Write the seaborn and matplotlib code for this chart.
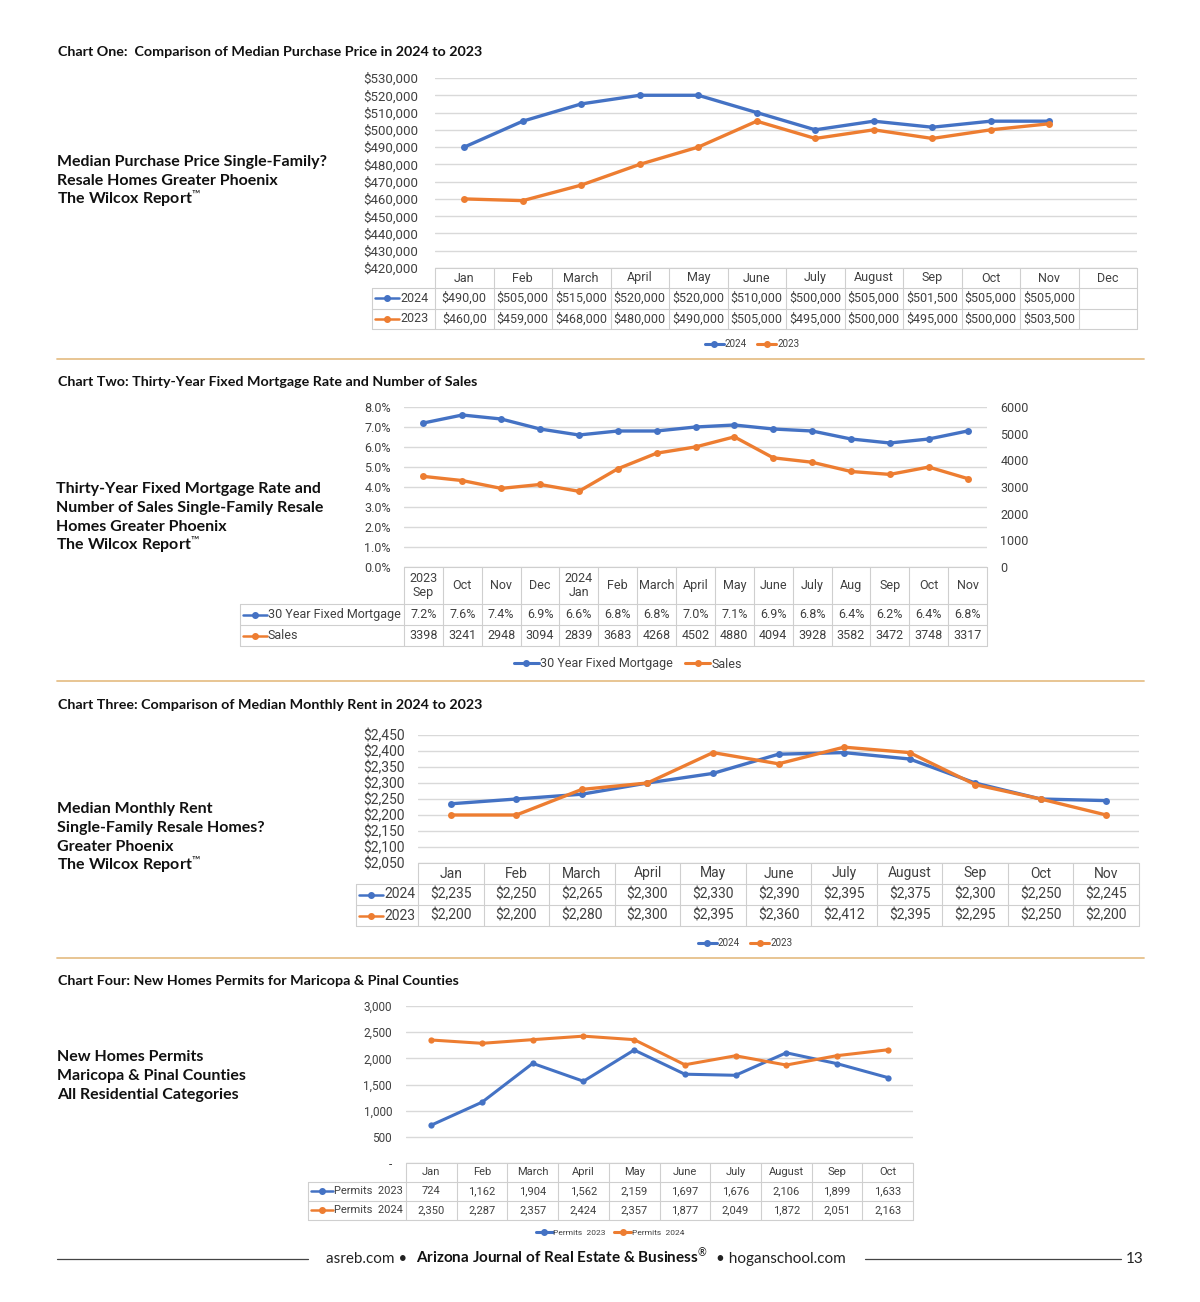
import numpy as np
import pandas as pd
import matplotlib
matplotlib.use('Agg')
import matplotlib.pyplot as plt
import seaborn as sns
from matplotlib.lines import Line2D
from matplotlib import font_manager

# chart one: median purchase price
months1 = ['Jan', 'Feb', 'March', 'April', 'May', 'June', 'July', 'August', 'Sep', 'Oct', 'Nov', 'Dec']
price_2024 = [490000, 505000, 515000, 520000, 520000, 510000, 500000, 505000, 501500, 505000, 505000]
price_2023 = [460000, 459000, 468000, 480000, 490000, 505000, 495000, 500000, 495000, 500000, 503500]

# chart two: mortgage rate and sales
months2 = ['2023\nSep', 'Oct', 'Nov', 'Dec', '2024\nJan', 'Feb', 'March', 'April', 'May', 'June',
           'July', 'Aug', 'Sep', 'Oct', 'Nov']
mortgage_rate = [7.2, 7.6, 7.4, 6.9, 6.6, 6.8, 6.8, 7.0, 7.1, 6.9, 6.8, 6.4, 6.2, 6.4, 6.8]
sales = [3398, 3241, 2948, 3094, 2839, 3683, 4268, 4502, 4880, 4094, 3928, 3582, 3472, 3748, 3317]

# chart three: median monthly rent
months3 = ['Jan', 'Feb', 'March', 'April', 'May', 'June', 'July', 'August', 'Sep', 'Oct', 'Nov']
rent_2024 = [2235, 2250, 2265, 2300, 2330, 2390, 2395, 2375, 2300, 2250, 2245]
rent_2023 = [2200, 2200, 2280, 2300, 2395, 2360, 2412, 2395, 2295, 2250, 2200]

# chart four: new homes permits
months4 = ['Jan', 'Feb', 'March', 'April', 'May', 'June', 'July', 'August', 'Sep', 'Oct']
permits_2023 = [724, 1162, 1904, 1562, 2159, 1697, 1676, 2106, 1899, 1633]
permits_2024 = [2350, 2287, 2357, 2424, 2357, 1877, 2049, 1872, 2051, 2163]

BLUE = '#4472C4'
ORANGE = '#ED7D31'
GRID = '#d9d9d9'
CELL = '#cfcfcf'
XTXT = '#404040'
RULE = '#e6c08a'

sns.set_style('white')
names = {f.name for f in font_manager.fontManager.ttflist}
XL = 'Liberation Sans Narrow' if 'Liberation Sans Narrow' in names else 'Roboto'
PAGE = 'Lato' if 'Lato' in names else 'DejaVu Sans'
plt.rcParams['font.family'] = [XL, 'DejaVu Sans']
plt.rcParams['mathtext.fontset'] = 'custom'
plt.rcParams['mathtext.rm'] = PAGE
plt.rcParams['mathtext.it'] = PAGE
plt.rcParams['mathtext.bf'] = PAGE + ':bold'

W, H = 1200, 1302
fig = plt.figure(figsize=(W / 100, H / 100), dpi=100)


def fx(x):
    return x / W


def fy(y):
    return 1 - y / H


def ptext(x, y, s, **kw):
    fig.text(fx(x), fy(y), s, **kw)


def seg(x0, y0, x1, y1, color=CELL, lw=0.8):
    fig.add_artist(Line2D([fx(x0), fx(x1)], [fy(y0), fy(y1)], transform=fig.transFigure,
                          color=color, lw=lw))


def chart_axes(l, t, r, b, n, ylim, yticks, fmt, fs, pad):
    ax = fig.add_axes([fx(l), fy(b), (r - l) / W, (b - t) / H])
    ax.set_xlim(-0.5, n - 0.5)
    ax.set_ylim(*ylim)
    ax.set_yticks(yticks)
    ax.set_yticklabels([fmt(v) for v in yticks])
    ax.set_xticks([])
    ax.tick_params(axis='y', length=0, pad=pad, labelsize=fs, labelcolor=XTXT)
    ax.yaxis.grid(True, color=GRID, lw=1)
    ax.set_axisbelow(True)
    for s in ax.spines.values():
        s.set_visible(False)
    return ax


def draw_lines(ax, series, palette, lw=2.4, ms=5):
    frame = pd.concat([pd.DataFrame({'pos': np.arange(len(v)), 'value': v, 'series': k})
                       for k, v in series.items()])
    sns.lineplot(data=frame, x='pos', y='value', hue='series', hue_order=list(series),
                 palette=palette, marker='o', markersize=ms, markeredgewidth=0,
                 linewidth=lw, legend=False, sort=False, ax=ax)
    ax.set_xlabel('')
    ax.set_ylabel('')


def draw_table(l, r, top, head_h, row_h, head_left, col_labels, rows, fs, key_w=24):
    n = len(col_labels)
    colw = (r - l) / n
    bottom = top + head_h + row_h * len(rows)
    seg(l, top, r, top)
    for k in range(len(rows) + 1):
        y = top + head_h + row_h * k
        seg(head_left, y, r, y)
    for i in range(n + 1):
        seg(l + i * colw, top, l + i * colw, bottom)
    seg(head_left, top + head_h, head_left, bottom)
    for i, lab in enumerate(col_labels):
        ptext(l + (i + 0.5) * colw, top + head_h / 2, lab, ha='center', va='center',
              fontsize=fs, color=XTXT, linespacing=1.15)
    for k, (name, color, cells) in enumerate(rows):
        yc = top + head_h + row_h * (k + 0.5)
        x0 = head_left + 3
        fig.add_artist(Line2D([fx(x0), fx(x0 + key_w / 2), fx(x0 + key_w)], [fy(yc)] * 3,
                              transform=fig.transFigure, color=color, lw=1.8,
                              marker='o', ms=4, markevery=[1]))
        ptext(x0 + key_w + 1, yc, name, ha='left', va='center', fontsize=fs, color=XTXT)
        for i, c in enumerate(cells):
            ptext(l + (i + 0.5) * colw, yc, c, ha='center', va='center', fontsize=fs, color=XTXT)


def legend(cx, cy, items, fs):
    handles = [Line2D([], [], color=c, lw=2.2, marker='o', ms=4) for _, c in items]
    fig.legend(handles, [t for t, _ in items], loc='center', bbox_to_anchor=(fx(cx), fy(cy)),
               ncol=len(items), frameon=False, fontsize=fs, handlelength=2.0,
               handletextpad=0.1, columnspacing=1.0, labelcolor=XTXT)


WILCOX = 'The Wilcox Report$^{\u2122}$'


def page_label(x, y, lines, step=19):
    for k, s in enumerate(lines):
        ptext(x, y + k * step, s, ha='left', va='baseline', fontsize=11.5, fontweight='bold',
              family=[PAGE, 'DejaVu Sans'], color='#111111')


def title(y, s):
    ptext(58, y, s, ha='left', va='center', fontsize=10.3, fontweight='bold',
          family=[PAGE, 'DejaVu Sans'], color='#111111')


# ---- chart one
title(52, 'Chart One:  Comparison of Median Purchase Price in 2024 to 2023')
page_label(57, 166, ['Median Purchase Price Single-Family?', 'Resale Homes Greater Phoenix', WILCOX])
ax1 = chart_axes(435, 78, 1137, 268, len(months1), (420000, 530000),
                 np.arange(420000, 530001, 10000), lambda v: f'${v:,.0f}', 9.5, 12)
draw_lines(ax1, {'2024': price_2024, '2023': price_2023}, {'2024': BLUE, '2023': ORANGE})
cells_2024 = [f'${v:,}' for v in price_2024]
cells_2023 = [f'${v:,}' for v in price_2023]
cells_2024[0] = cells_2024[0][:-1]  # clipped in the original cell
cells_2023[0] = cells_2023[0][:-1]
draw_table(435, 1137, 268, 20, 20.5, 372, months1,
           [('2024', BLUE, cells_2024), ('2023', ORANGE, cells_2023)], 9)
legend(752, 344, [('2024', BLUE), ('2023', ORANGE)], 7)
seg(57, 359, 1144, 359, color=RULE, lw=1.3)

# ---- chart two
title(382, 'Chart Two: Thirty-Year Fixed Mortgage Rate and Number of Sales')
page_label(56, 493, ['Thirty-Year Fixed Mortgage Rate and', 'Number of Sales Single-Family Resale',
                     'Homes Greater Phoenix', WILCOX])
ax2 = chart_axes(404, 407, 987, 567, len(months2), (0, 8), np.arange(0, 8.01, 1),
                 lambda v: f'{v:.1f}%', 9, 9.5)
draw_lines(ax2, {'30 Year Fixed Mortgage': mortgage_rate}, {'30 Year Fixed Mortgage': BLUE})
ax2r = ax2.twinx()
draw_lines(ax2r, {'Sales': sales}, {'Sales': ORANGE})
ax2r.set_ylim(0, 6000)
ax2r.set_yticks(np.arange(0, 6001, 1000))
ax2r.tick_params(axis='y', length=0, pad=9.5, labelsize=9, labelcolor=XTXT)
for s in ax2r.spines.values():
    s.set_visible(False)
draw_table(404, 987, 567, 37, 21, 240, months2,
           [('30 Year Fixed Mortgage', BLUE, [f'{v:.1f}%' for v in mortgage_rate]),
            ('Sales', ORANGE, [str(v) for v in sales])], 9)
legend(628, 664, [('30 Year Fixed Mortgage', BLUE), ('Sales', ORANGE)], 9)
seg(57, 681, 1144, 681, color=RULE, lw=1.3)

# ---- chart three
title(705, 'Chart Three: Comparison of Median Monthly Rent in 2024 to 2023')
page_label(57, 813, ['Median Monthly Rent', 'Single-Family Resale Homes?', 'Greater Phoenix', WILCOX])
ax3 = chart_axes(418, 735, 1139, 863, len(months3), (2050, 2450), np.arange(2050, 2451, 50),
                 lambda v: f'${v:,.0f}', 10, 9.5)
draw_lines(ax3, {'2024': rent_2024, '2023': rent_2023}, {'2024': BLUE, '2023': ORANGE})
draw_table(418, 1139, 863, 21, 21, 356, months3,
           [('2024', BLUE, [f'${v:,}' for v in rent_2024]),
            ('2023', ORANGE, [f'${v:,}' for v in rent_2023])], 10)
legend(745, 943, [('2024', BLUE), ('2023', ORANGE)], 7)
seg(57, 958, 1144, 958, color=RULE, lw=1.3)

# ---- chart four
title(981, 'Chart Four: New Homes Permits for Maricopa & Pinal Counties')
page_label(57, 1061, ['New Homes Permits', 'Maricopa & Pinal Counties', 'All Residential Categories'])
ax4 = chart_axes(406, 1006, 913, 1163, len(months4), (0, 3000), np.arange(0, 3001, 500),
                 lambda v: f'{v:,.0f}' if v else '-', 8.5, 10)
draw_lines(ax4, {'Permits  2023': permits_2023, 'Permits  2024': permits_2024},
           {'Permits  2023': BLUE, 'Permits  2024': ORANGE}, lw=2.2, ms=4.5)
draw_table(406, 913, 1163, 18.5, 19, 308, months4,
           [('Permits  2023', BLUE, [f'{v:,}' for v in permits_2023]),
            ('Permits  2024', ORANGE, [f'{v:,}' for v in permits_2024])], 8, key_w=22)
legend(610, 1233, [('Permits  2023', BLUE), ('Permits  2024', ORANGE)], 6)

# ---- footer
seg(57, 1259, 308, 1259, color='#444444', lw=0.9)
seg(865, 1259, 1121, 1259, color='#444444', lw=0.9)
ptext(407, 1263, 'asreb.com \u2022', ha='right', va='baseline', fontsize=11,
      family=[PAGE, 'DejaVu Sans'], color='#222222')
ptext(562, 1263, 'Arizona Journal of Real Estate & Business$^{\u00ae}$', ha='center', va='baseline',
      fontsize=11, fontweight='bold', family=[PAGE, 'DejaVu Sans'], color='#111111')
ptext(716, 1263, '\u2022 hoganschool.com', ha='left', va='baseline', fontsize=11,
      family=[PAGE, 'DejaVu Sans'], color='#222222')
ptext(1126, 1263, '13', ha='left', va='baseline', fontsize=11, family=[PAGE, 'DejaVu Sans'],
      color='#222222')

fig.savefig('out.png', dpi=100, facecolor='white')
